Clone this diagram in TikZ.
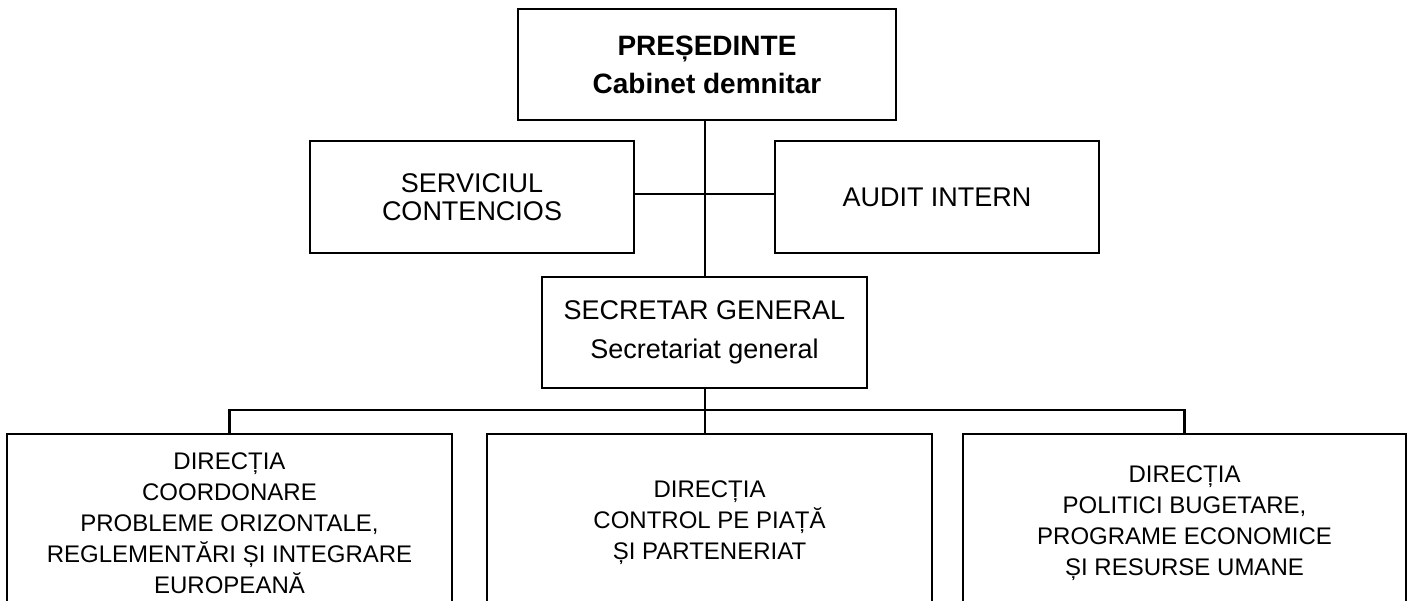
\documentclass[tikz,border=0pt]{standalone}
\usepackage{fontspec}
\setmainfont{Liberation Sans}
\begin{document}
\begin{tikzpicture}[x=0.5pt,y=-0.5pt,line width=1.1pt,
    orgbox/.style={draw,align=center,inner sep=0pt,font=\fontsize{13.5}{14}\selectfont},
    sidebox/.style={orgbox,minimum width=162pt,minimum height=56pt},
    dirbox/.style={orgbox,minimum width=222.5pt,minimum height=89pt,font=\fontsize{12}{15.5}\selectfont}]
    \useasboundingbox (0,0) rectangle (1413,600);
    \clip (0,0) rectangle (1413,600);
    \node[orgbox,minimum width=189pt,minimum height=55.5pt,
      font=\fontsize{14}{19}\selectfont\bfseries] (pres) at (707,64.5)
      {PREȘEDINTE\\Cabinet demnitar};
    \node[sidebox] (serv) at (472,197) {SERVICIUL\\CONTENCIOS};
    \node[sidebox] (audit) at (937,197) {AUDIT INTERN};
    \node[orgbox,minimum width=162.5pt,minimum height=55.5pt,
      font=\fontsize{13.5}{19.5}\selectfont] (secr) at (704.5,332.5)
      {SECRETAR GENERAL\\Secretariat general};
    \node[dirbox] (dir1) at (229.5,523)
      {DIRECȚIA\\COORDONARE\\PROBLEME ORIZONTALE,\\REGLEMENTĂRI ȘI INTEGRARE\\EUROPEANĂ};
    \node[dirbox] (dir2) at (709.5,523)
      {DIRECȚIA\\CONTROL PE PIAȚĂ\\ȘI PARTENERIAT};
    \node[dirbox,minimum width=221.5pt] (dir3) at (1184.5,523)
      {DIRECȚIA\\POLITICI BUGETARE,\\PROGRAME ECONOMICE\\ȘI RESURSE UMANE};
    \coordinate (mid) at (705,194);
    \coordinate (bus) at (705,410);
    \draw (pres.south -| bus) -- (secr.north -| bus);
    \draw (serv.east |- mid) -- (audit.west |- mid);
    \draw (secr.south -| bus) -- (dir2.north -| bus);
    \draw (dir1.north) |- (bus) -| (dir3.north);
\end{tikzpicture}
\end{document}
